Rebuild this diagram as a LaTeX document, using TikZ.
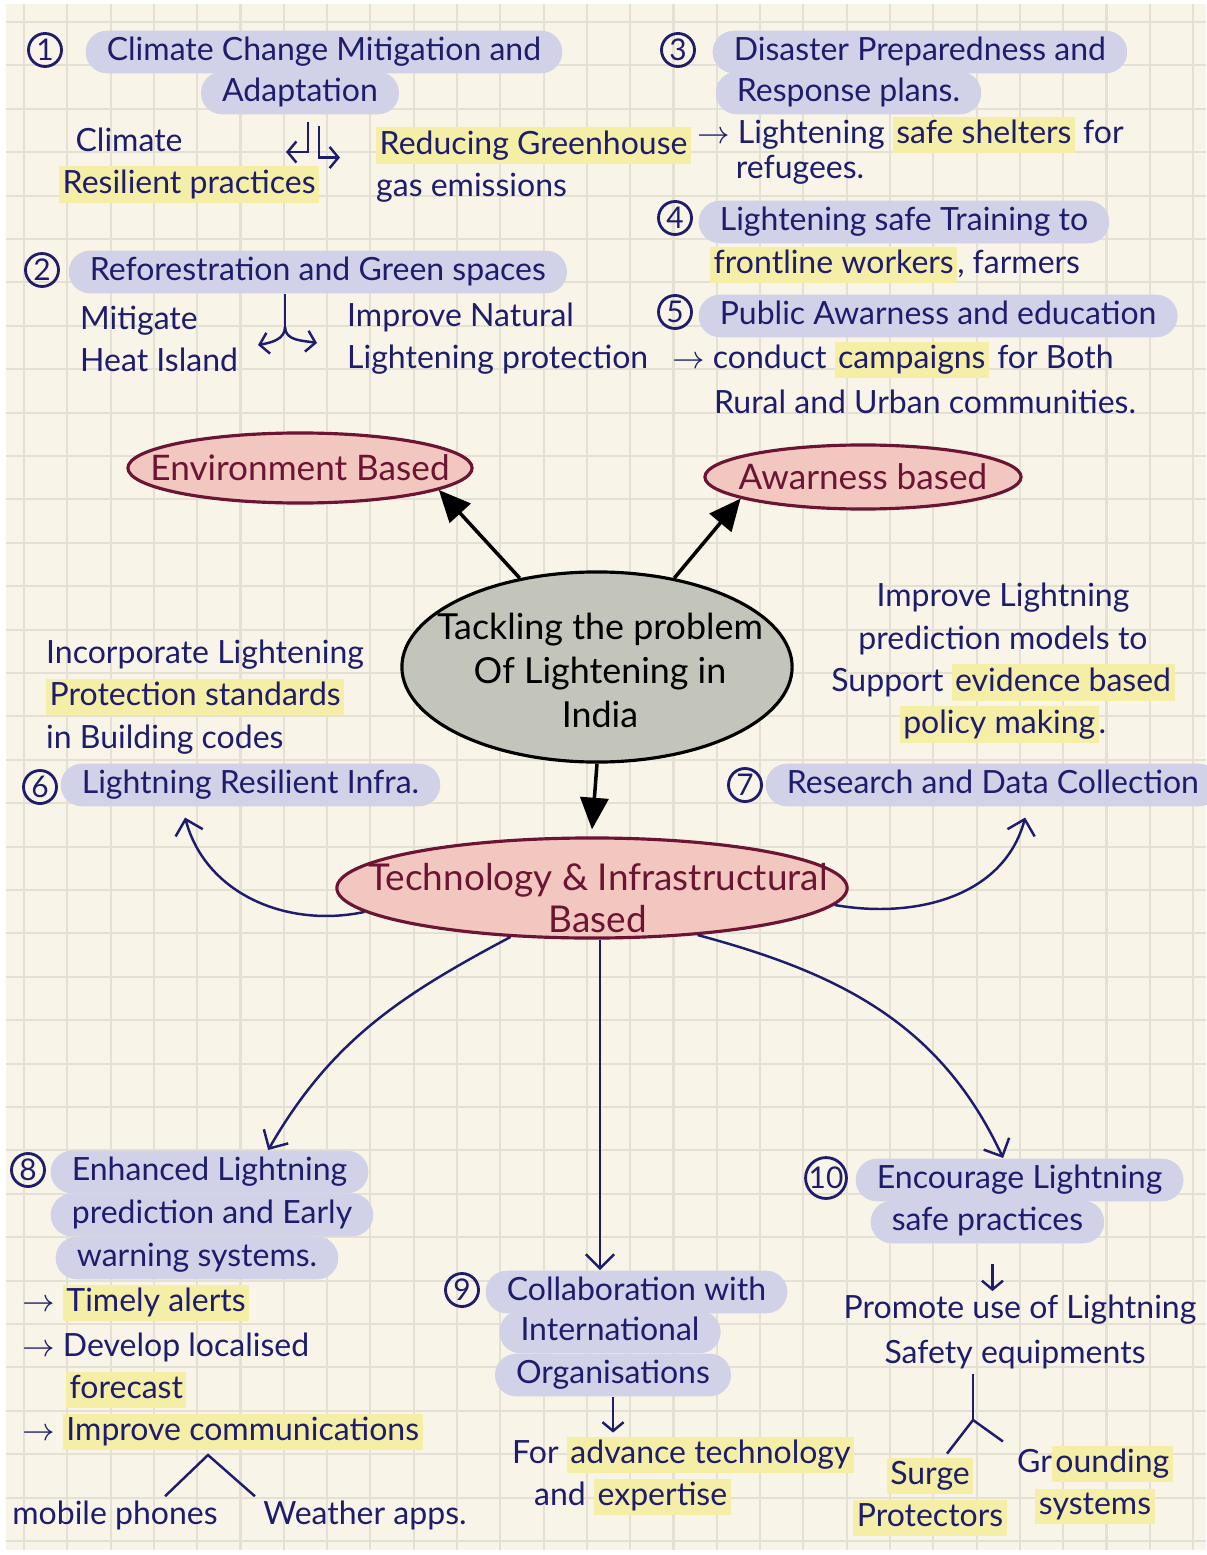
\documentclass[tikz,border=0pt]{standalone}
\usepackage{fontspec}
\setmainfont{Lato}
\usetikzlibrary{shapes.geometric,arrows.meta,positioning}
\definecolor{paper}{HTML}{F8F5E8}
\definecolor{gridline}{HTML}{E4E1D4}
\definecolor{inkblue}{HTML}{1E1C6C}
\definecolor{lavender}{HTML}{D1D2E7}
\definecolor{hlyellow}{HTML}{F4EEA6}
\definecolor{pinkfill}{HTML}{F2C7BF}
\definecolor{maroon}{HTML}{6C1434}
\definecolor{corefill}{HTML}{C3C4BA}
\newcommand{\hly}[1]{{\setlength{\fboxsep}{1pt}\colorbox{hlyellow}{\vphantom{Ag}#1}}}
\tikzset{
  txt/.style={text=inkblue, font=\fontsize{9.1}{12}\selectfont, inner sep=1pt},
  lav/.style={txt, fill=lavender, rounded corners=6pt, inner xsep=6pt, inner ysep=1.5pt, text height=7pt, text depth=2.1pt},
  num/.style={circle, draw=inkblue, line width=0.8pt, text=inkblue, font=\fontsize{8.5}{8.5}\selectfont, inner sep=0pt, minimum size=0.33cm},
  bubble/.style={ellipse, draw=maroon, line width=0.9pt, fill=pinkfill, inner sep=0pt},
  bubtext/.style={text=maroon, font=\fontsize{10}{12}\selectfont, align=center},
  core/.style={ellipse, draw=black, line width=0.9pt, fill=corefill, inner sep=0pt},
  push/.style={draw=black, line width=1pt, -{Triangle[length=9pt,width=8pt]}},
  link/.style={draw=inkblue, line width=0.7pt, -{Straight Barb[length=4pt,width=8pt]}},
  tick/.style={draw=inkblue, line width=0.7pt},
  tip/.style={tick, -{Straight Barb[length=2.5pt,width=6pt]}}
}
\begin{document}
\begin{tikzpicture}[x=0.01cm, y=-0.01cm]
  \useasboundingbox (0,0) rectangle (1206,1555);
  \fill[white] (0,0) rectangle (1206,1555);
  \fill[paper] (6,4) rectangle (1206,1550);
  \foreach \gx in {0,...,27}
    \draw[gridline, line width=0.6pt] ({24+43.3*\gx},4) -- ({24+43.3*\gx},1550);
  \foreach \gy in {0,...,35}
    \draw[gridline, line width=0.6pt] (6,{22+43.4*\gy}) -- (1206,{22+43.4*\gy});

  % top left
  \node[num] (n1) at (45,50) {1};
  \node[lav, anchor=west] (mitig) at (85,52) {Climate Change Mitigation and};
  \node[lav] (adapt) at (300,93) {Adaptation};
  \node[txt, align=left, anchor=west] (climres) at (55,165) {\ \ Climate\\\hly{Resilient practices}};
  \node[txt, align=left, anchor=west] (reduce) at (372,165) {\hly{Reducing Greenhouse}\\gas emissions};
  \node[num] (n2) at (42,270) {2};
  \node[lav, anchor=west] (refo) at (68,272) {Reforestration and Green spaces};
  \node[txt, align=left, anchor=west] (heat) at (76,339) {Mitigate\\Heat Island};
  \node[txt, align=left, anchor=west] (natural) at (343,339) {Improve Natural\\Lightening protection};

  % top right
  \node[num] (n3) at (678,50) {3};
  \node[lav, anchor=west] (disaster) at (712,52) {Disaster Preparedness and};
  \node[lav, anchor=west] (response) at (715,93) {Response plans.};
  \node[txt, anchor=west] (shelter) at (693,135) {$\rightarrow$ Lightening \hly{safe shelters} for};
  \node[txt] (refugees) at (800,170) {refugees.};
  \node[num] (n4) at (675,218) {4};
  \node[lav, anchor=west] (training) at (698,222) {Lightening safe Training to};
  \node[txt, anchor=west] (workers) at (706,265) {\hly{frontline workers}, farmers};
  \node[num] (n5) at (675,312) {5};
  \node[lav, anchor=west] (public) at (698,316) {Public Awarness and education};
  \node[txt, anchor=west] (campaign) at (668,360) {$\rightarrow$ conduct \hly{campaigns} for Both};
  \node[txt] (rural) at (925,402) {Rural and Urban communities.};

  % centre
  \node[bubble, minimum width=3.44cm, minimum height=0.7cm] (env) at (300,468) {};
  \node[bubtext] (envtxt) at (env) {Environment Based};
  \node[bubble, minimum width=3.16cm, minimum height=0.64cm] (aware) at (863,477) {};
  \node[bubtext] (awaretxt) at (aware) {Awarness based};
  \node[core, minimum width=3.9cm, minimum height=1.9cm] (core) at (597,667) {};
  \node[align=center, font=\fontsize{10.2}{12.5}\selectfont] (coretxt) at (600,670) {Tackling the problem\\Of Lightening in\\India};
  \node[bubble, minimum width=5.1cm, minimum height=1.0cm] (tech) at (592,888) {};
  \node[bubtext, font=\fontsize{10.5}{12}\selectfont] (techtxt) at (598,898) {Technology \& Infrastructural\\Based};

  \node[txt, align=left, anchor=west] (codes) at (42,697) {Incorporate Lightening\\\hly{Protection standards}\\in Building codes};
  \node[num] (n6) at (40,787) {6};
  \node[lav, anchor=west] (infra) at (60,785) {Lightning Resilient Infra.};
  \node[txt, align=center] (models) at (1003,663) {Improve Lightning\\prediction models to\\Support \hly{evidence based}\\\hly{policy making}.};
  \node[num] (n7) at (745,785) {7};
  \node[lav, anchor=west] (research) at (765,785) {Research and Data Collection};

  % bottom left
  \node[num] (n8) at (28,1170) {8};
  \node[lav, anchor=west] (enh) at (50,1172) {Enhanced Lightning};
  \node[lav, anchor=west] (pred) at (50,1215) {prediction and Early};
  \node[lav, anchor=west] (warn) at (55,1258) {warning systems.};
  \node[txt, anchor=west] (timely) at (18,1303) {$\rightarrow$ \hly{Timely alerts}};
  \node[txt, anchor=west] (develop) at (18,1347) {$\rightarrow$ Develop localised};
  \node[txt, anchor=west] (forecast) at (62,1390) {\hly{forecast}};
  \node[txt, anchor=west] (comm) at (18,1432) {$\rightarrow$ \hly{Improve communications}};
  \node[txt] (mobile) at (115,1515) {mobile phones};
  \node[txt] (apps) at (365,1515) {Weather apps.};

  % bottom middle
  \node[num] (n9) at (462,1290) {9};
  \node[lav, anchor=west] (collab) at (485,1292) {Collaboration with};
  \node[lav] (intl) at (610,1332) {International};
  \node[lav] (org) at (613,1375) {Organisations};
  \node[txt, anchor=west] (advance) at (508,1455) {For \hly{advance technology}};
  \node[txt, anchor=west] (expert) at (530,1497) {and \hly{expertise}};

  % bottom right
  \node[num] (n10) at (826,1178) {10};
  \node[lav, anchor=west] (encour) at (855,1180) {Encourage Lightning};
  \node[lav, anchor=west] (safeprac) at (870,1222) {safe practices};
  \node[txt] (promote) at (1020,1310) {Promote use of Lightning};
  \node[txt] (safety) at (1015,1355) {Safety equipments};
  \node[txt, align=center] (surge) at (930,1497) {\hly{Surge}\\\hly{Protectors}};
  \node[txt, align=center] (ground) at (1095,1485) {Gr\hly{ounding}\\\hly{systems}};

  \coordinate (fork2) at (285,327);
  \coordinate (peak8) at (208,1455);
  \coordinate (fork10) at (973,1420);
  \coordinate (techfoot) at ([xshift=0.08cm]tech.south);
  \coordinate (s10) at ([xshift=0.05cm, yshift=-0.2cm]safeprac.south);

  \begin{scope}
    \draw[push] (core.131) -- (env.-9);
    \draw[push] (core.49) -- (aware.190);
    \draw[push] (core.south) -- ([yshift=2pt]tech.north);
    \draw[link] (tech.186) to[out=192, in=-75] ([xshift=1.25cm, yshift=-3pt]infra.south west);
    \draw[link] (tech.-4) to[out=-10, in=-105] ([xshift=2.6cm, yshift=-3pt]research.south west);
    \draw[link] (tech.211) to[out=-152, in=60] ([xshift=2.18cm]enh.north west);
    \draw[link] (techfoot) -- (techfoot |- collab.north);
    \draw[link] (tech.-24) to[out=-15, in=115] ([xshift=1.48cm]encour.north west);
  \end{scope}

  \begin{scope}
    \draw[tip] ([xshift=0.08cm, yshift=-2pt]adapt.south) -- ++(0,30) -- ++(-22,0);
    \draw[tip] ([xshift=0.19cm, yshift=-3pt]adapt.south) -- ++(0,32) -- ++(21,0);
    \draw[tick] (refo.south -| fork2) -- (fork2);
    \draw[tip] (fork2) to[out=-90, in=10] ++(-27,18);
    \draw[tip] (fork2) to[out=-90, in=170] ++(32,16);
    \draw[tip] (org.south) -- (org.south |- advance.north);
    \draw[tip] (s10) -- (s10 |- promote.north);
    \draw[tick] ([xshift=0.5cm]mobile.north) -- (peak8) -- ([xshift=-1.1cm]apps.north);
    \draw[tick] (fork10 |- safety.south) -- (fork10);
    \draw[tick] (fork10) -- ([xshift=0.17cm]surge.north);
    \draw[tick] (fork10) -- ([xshift=-0.92cm]ground.north);
  \end{scope}
\end{tikzpicture}
\end{document}
